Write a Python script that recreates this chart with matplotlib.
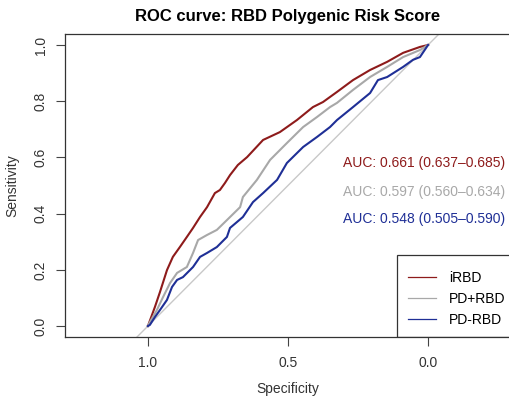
import matplotlib
matplotlib.use("Agg")
import matplotlib.pyplot as plt
from matplotlib.lines import Line2D
from matplotlib.patches import Rectangle

plt.rcParams['font.family'] = ['Liberation Sans', 'DejaVu Sans']

# ROC curves (specificity, sensitivity)
irbd_spec = [1.000, 0.975, 0.957, 0.932, 0.911, 0.886, 0.861, 0.839, 0.814, 0.789,
             0.761, 0.743, 0.725, 0.707, 0.679, 0.646, 0.589, 0.529, 0.468, 0.411,
             0.375, 0.325, 0.268, 0.207, 0.146, 0.089, 0.029, 0.000]
irbd_sens = [0.000, 0.068, 0.121, 0.199, 0.246, 0.281, 0.317, 0.349, 0.388, 0.423,
             0.473, 0.484, 0.509, 0.537, 0.573, 0.601, 0.662, 0.690, 0.733, 0.779,
             0.797, 0.833, 0.875, 0.911, 0.940, 0.972, 0.993, 1.000]

pdrbd_spec = [1.000, 0.993, 0.968, 0.946, 0.921, 0.896, 0.861, 0.839, 0.821, 0.789,
              0.754, 0.718, 0.671, 0.661, 0.611, 0.564, 0.504, 0.446, 0.396, 0.350,
              0.325, 0.268, 0.207, 0.146, 0.089, 0.029, 0.000]
pdrbd_sens = [0.000, 0.014, 0.057, 0.103, 0.153, 0.189, 0.210, 0.260, 0.306, 0.324,
              0.342, 0.377, 0.423, 0.459, 0.520, 0.591, 0.651, 0.708, 0.744, 0.779,
              0.794, 0.840, 0.886, 0.922, 0.957, 0.982, 1.000]

pdnorbd_spec = [1.000, 0.993, 0.975, 0.957, 0.932, 0.914, 0.896, 0.875, 0.839, 0.814,
                0.789, 0.754, 0.718, 0.707, 0.661, 0.625, 0.589, 0.539, 0.504, 0.446,
                0.396, 0.350, 0.325, 0.268, 0.207, 0.179, 0.146, 0.089, 0.054, 0.029,
                0.000]
pdnorbd_sens = [0.000, 0.004, 0.032, 0.057, 0.093, 0.139, 0.164, 0.174, 0.210, 0.246,
                0.260, 0.281, 0.317, 0.349, 0.388, 0.441, 0.473, 0.520, 0.580, 0.637,
                0.673, 0.708, 0.733, 0.779, 0.829, 0.875, 0.886, 0.922, 0.947, 0.957,
                1.000]

labels = ['iRBD', 'PD+RBD', 'PD-RBD']
auc_text = ['AUC: 0.661 (0.637\u20130.685)',
            'AUC: 0.597 (0.560\u20130.634)',
            'AUC: 0.548 (0.505\u20130.590)']
colors = ['#8E1B1B', '#A8A8A8', '#1F2F96']

fig = plt.figure(figsize=(5.10, 4.04), dpi=100)
ax = fig.add_axes([65 / 510, 1 - 337 / 404, 446 / 510, 303 / 404])

ax.axline((1, 0), (0, 1), color='#C8C8C8', lw=1, zorder=1)
curves = [(irbd_spec, irbd_sens), (pdrbd_spec, pdrbd_sens), (pdnorbd_spec, pdnorbd_sens)]
for (sp, se), c in zip(curves, colors):
    ax.plot(sp, se, color=c, lw=1.5, zorder=2)

ax.set_xlim(1.296, -0.296)
ax.set_ylim(-0.039, 1.039)
ax.set_xticks([1.0, 0.5, 0.0])
ax.set_xticklabels(['1.0', '0.5', '0.0'])
ax.set_yticks([0.0, 0.2, 0.4, 0.6, 0.8, 1.0])
ax.set_yticklabels(['0.0', '0.2', '0.4', '0.6', '0.8', '1.0'], rotation=90, va='center')
ax.tick_params(direction='out', length=6.5, width=0.8, colors='#444444',
               labelsize=10, labelcolor='#333333')
ax.tick_params(axis='x', pad=7)
ax.tick_params(axis='y', pad=6)
for s in ax.spines.values():
    s.set_color('#333333')
    s.set_linewidth(0.9)

ax.set_xlabel('Specificity', fontsize=10, color='#333333', labelpad=9)
ax.set_ylabel('Sensitivity', fontsize=10, color='#333333', labelpad=10)
ax.set_title('ROC curve: RBD Polygenic Risk Score', fontsize=12, fontweight='bold',
             pad=9)

for i, (t, c) in enumerate(zip(auc_text, colors)):
    ax.text(0.304, [0.580, 0.477, 0.381][i], t, color=c, fontsize=10,
            ha='left', va='center')

# legend box
ax.add_patch(Rectangle((0.744, 0), 0.4, 0.271, transform=ax.transAxes,
                       fill=False, edgecolor='#333333', lw=0.9, zorder=3))
handles = [Line2D([], [], color=c, lw=0.9) for c in colors]
ax.legend(handles, labels, loc='upper left', bbox_to_anchor=(0.769, 0.217),
          frameon=False, fontsize=10, borderaxespad=0, borderpad=0,
          handlelength=2.0, handletextpad=0.95, labelspacing=0.5)

fig.savefig('out.png', dpi=100)
